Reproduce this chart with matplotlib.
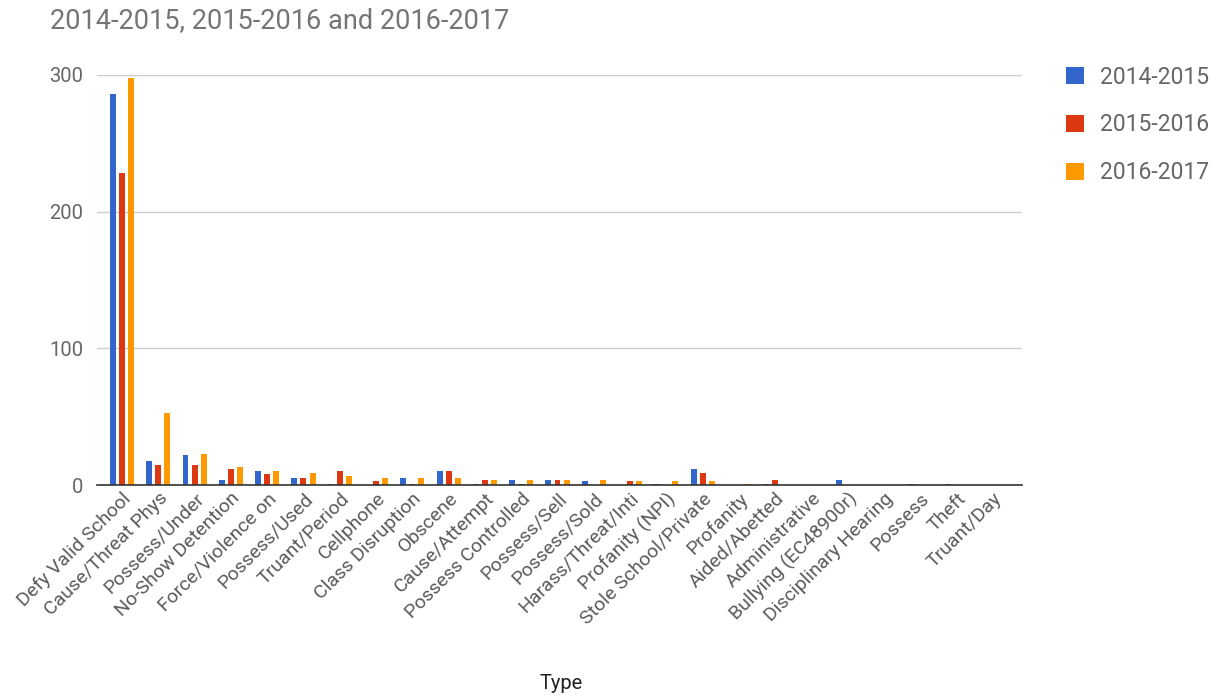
import numpy as np
import matplotlib.pyplot as plt

plt.rcParams['font.family'] = ['Roboto', 'DejaVu Sans']

# incident types and counts per school year
categories = ["Defy Valid School", "Cause/Threat Phys", "Possess/Under", "No-Show Detention",
              "Force/Violence on", "Possess/Used", "Truant/Period", "Cellphone",
              "Class Disruption", "Obscene", "Cause/Attempt", "Possess Controlled",
              "Possess/Sell", "Possess/Sold", "Harass/Threat/Inti", "Profanity (NPI)",
              "Stole School/Private", "Profanity", "Aided/Abetted", "Administrative",
              "Bullying (EC48900r)", "Disciplinary Hearing", "Possess", "Theft", "Truant/Day"]
y2014 = [286, 18, 22, 4, 10, 5, 1, 0, 5, 10, 1, 4, 4, 3, 0, 1, 12, 0, 1, 0, 4, 0, 1, 1, 0]
y2015 = [228, 15, 15, 12, 8, 5, 10, 3, 1, 10, 4, 1, 4, 0, 3, 0, 9, 0, 4, 0, 0, 0, 0, 0, 0]
y2016 = [298, 53, 23, 13, 10, 9, 7, 5, 5, 5, 4, 4, 4, 4, 3, 3, 3, 1, 0, 0, 0, 0, 0, 0, 0]
series = ["2014-2015", "2015-2016", "2016-2017"]
colors = ["#3366cc", "#dc3912", "#ff9900"]

fig = plt.figure(figsize=(12.24, 6.98), dpi=100)
ax = fig.add_axes([0.0792, 0.305, 0.7558, 0.5876])

x = np.arange(len(categories))
w = 0.165
for k, (vals, name, c) in enumerate(zip([y2014, y2015, y2016], series, colors)):
    ax.bar(x + (k - 1) * 0.25, vals, width=w, color=c, label=name, zorder=3)

ax.set_ylim(0, 300)
ax.set_xlim(-0.69, 24.8)
ax.set_yticks([0, 100, 200, 300])
ax.grid(axis='y', color='#cccccc', linewidth=1, zorder=0)
for s in ['top', 'right', 'left']:
    ax.spines[s].set_visible(False)
ax.spines['bottom'].set_color('#333333')
ax.spines['bottom'].set_linewidth(1.2)
ax.spines['bottom'].set_zorder(4)
ax.tick_params(axis='both', length=0, colors='#444444')
ax.tick_params(axis='y', pad=10, labelcolor='#666666', labelsize=14.5)
ax.set_xticks(x)
ax.set_xticklabels(categories, rotation=45, ha='right', rotation_mode='anchor',
                   color='#5a5a5a', fontsize=14)
ax.tick_params(axis='x', pad=3)

ax.set_xlabel("Type", fontsize=14.5, color='#222222')
ax.xaxis.set_label_coords(0.502, -0.46)

fig.text(50 / 1224, 1 - 21 / 698, "2014-2015, 2015-2016 and 2016-2017", fontsize=19.5,
         color='#757575', va='center', ha='left')

ax.legend(loc='upper left', bbox_to_anchor=(1.038, 1.045), frameon=False, fontsize=16.5,
          handlelength=0.75, handleheight=0.75, handletextpad=0.7, labelspacing=1.08,
          labelcolor='#666666', borderaxespad=0)

fig.savefig("out.png", dpi=100)
